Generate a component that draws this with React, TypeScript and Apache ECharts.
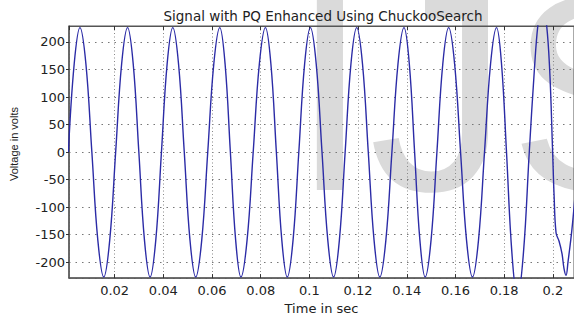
import { useEffect, useRef } from "react";
import * as echarts from "echarts";

const titleText = "Signal with PQ Enhanced Using ChuckooSearch";
const xName = "Time in sec";
const yName = "Voltage in volts";
const watermark = "IJS";
const xRange = [0.00125, 0.2087];
const yRange = [-229, 229];

const times = [
  0.001, 0.00338, 0.00575, 0.0082, 0.01064, 0.01309, 0.01553, 0.01798,
  0.02042, 0.02287, 0.02531, 0.02763, 0.02994, 0.03225, 0.03456, 0.0369,
  0.03923, 0.04156, 0.04389, 0.04625, 0.0486, 0.05095, 0.0533, 0.05578,
  0.05825, 0.06073, 0.0632, 0.06537, 0.06754, 0.06971, 0.07188, 0.0744,
  0.07692, 0.07944, 0.08195, 0.08419, 0.08643, 0.08867, 0.09091, 0.09329,
  0.09566, 0.09804, 0.10041, 0.1028, 0.10518, 0.10756, 0.10994, 0.11232,
  0.11469, 0.11707, 0.11944, 0.12182, 0.12419, 0.12656, 0.12893, 0.13142,
  0.1339, 0.13639, 0.13887, 0.14105, 0.14322, 0.14539, 0.14756, 0.14998,
  0.15239, 0.1548, 0.15721, 0.15966, 0.1621, 0.16455, 0.16699, 0.16947,
  0.17194, 0.17442, 0.17689, 0.17893, 0.18097, 0.18322, 0.18546, 0.1879,
  0.19033, 0.19243, 0.19406, 0.19564, 0.19727, 0.1987, 0.19992, 0.20053,
  0.20134, 0.20257, 0.20379, 0.2046, 0.20542, 0.20623, 0.20786, 0.20949,
];

const volts = [
  0, 160, 226, 160, 0, -160, -227, -160,
  0, 160, 226, 160, 0, -160, -227, -160,
  0, 160, 226, 160, 0, -160, -227, -160,
  0, 160, 226, 160, 0, -160, -227, -160,
  0, 160, 226, 160, 0, -160, -227, -160,
  0, 160, 226, 160, 0, -160, -227, -160,
  0, 160, 226, 160, 0, -160, -227, -160,
  0, 160, 226, 160, 0, -160, -227, -160,
  0, 160, 226, 160, 0, -160, -227, -160,
  0, 160, 226, 160, 0, -185, -265, -185,
  0, 150, 238, 270, 238, 150, 0, -80,
  -147, -162, -185, -212, -224, -200, -140, -60,
];

const labelFont = "DejaVu Sans";

export default function App() {
  const ref = useRef<HTMLDivElement>(null);

  useEffect(() => {
    const chart = echarts.init(ref.current!, null, { renderer: "svg" });
    chart.setOption({
      animation: false,
      backgroundColor: "#ffffff",
      title: {
        text: titleText,
        left: 318,
        textAlign: "center",
        top: 4,
        textStyle: {
          fontFamily: labelFont,
          fontSize: 13.5,
          fontWeight: "normal",
          color: "#222",
        },
      },
      graphic: [
        {
          type: "text",
          z: -10,
          silent: true,
          x: 291,
          y: 93,
          style: {
            text: watermark,
            font: '280px "Liberation Sans"',
            fill: "#dadada",
            align: "left",
            verticalAlign: "middle",
          },
        },
      ],
      grid: {
        left: 65,
        right: -1,
        top: 26,
        bottom: 29,
        show: true,
        borderColor: "#555",
        borderWidth: 1,
        backgroundColor: "transparent",
      },
      xAxis: [
        {
          type: "value",
          min: xRange[0],
          max: xRange[1],
          splitNumber: 10,
          name: xName,
          nameLocation: "middle",
          nameGap: 19,
          nameTextStyle: { fontFamily: labelFont, fontSize: 13, color: "#222" },
          axisLine: { show: true, onZero: false, lineStyle: { color: "#555", width: 1.5 } },
          axisTick: { show: true, inside: true, length: 4, lineStyle: { color: "#333" } },
          axisLabel: {
            showMinLabel: false,
            showMaxLabel: false,
            margin: 6,
            fontFamily: labelFont,
            fontSize: 13,
            color: "#222",
          },
          splitLine: {
            show: true,
            lineStyle: { color: "#888", type: [1, 2.5], width: 1 },
          },
        },
        {
          type: "value",
          position: "top",
          min: xRange[0],
          max: xRange[1],
          splitNumber: 10,
          axisLine: { show: true, onZero: false, lineStyle: { color: "#555" } },
          axisTick: { show: true, inside: true, length: 4, lineStyle: { color: "#333" } },
          axisLabel: { show: false },
          splitLine: { show: false },
        },
      ],
      yAxis: {
        type: "value",
        min: yRange[0],
        max: yRange[1],
        splitNumber: 9,
        name: yName,
        nameLocation: "middle",
        nameGap: 50,
        nameRotate: 90,
        nameTextStyle: {
          fontFamily: "Liberation Sans",
          fontSize: 11,
          color: "#222",
          padding: [0, 0, 0, 16],
        },
        axisLine: { show: true, onZero: false, lineStyle: { color: "#555", width: 1.5 } },
        axisTick: { show: true, inside: false, length: 3, lineStyle: { color: "#333" } },
        axisLabel: {
          showMinLabel: false,
          showMaxLabel: false,
          margin: 4,
          fontFamily: labelFont,
          fontSize: 13,
          color: "#222",
        },
        splitLine: {
          show: true,
          lineStyle: { color: "#777", type: [1.5, 5], width: 1.2 },
        },
      },
      series: [
        {
          type: "line",
          xAxisIndex: 0,
          yAxisIndex: 0,
          data: times.map((t, i) => [t, volts[i]]),
          showSymbol: false,
          smooth: 0.4,
          clip: true,
          lineStyle: { color: "#2b2ba6", width: 1.4 },
          z: 3,
        },
      ],
    });
    return () => chart.dispose();
  }, []);

  return (
    <div
      ref={ref}
      style={{ position: "fixed", left: 0, top: 0, width: 574, height: 320 }}
    />
  );
}
